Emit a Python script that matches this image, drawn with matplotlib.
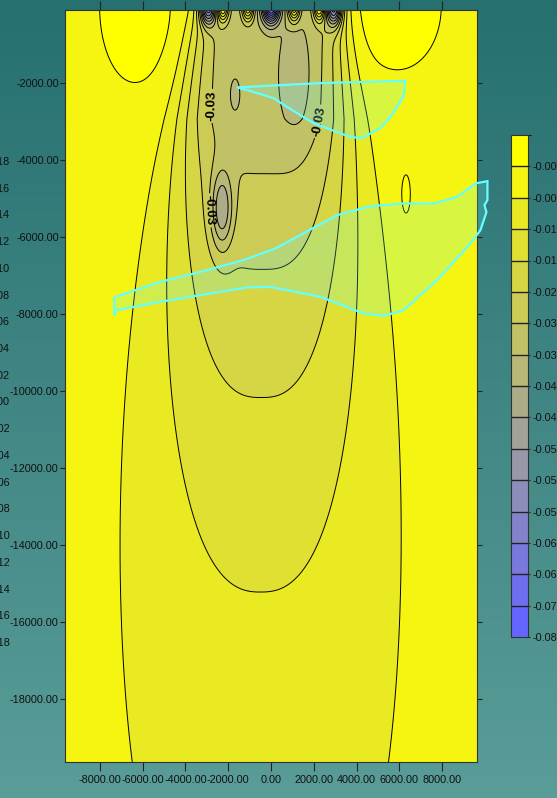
import numpy as np
import matplotlib
matplotlib.use('Agg')
import matplotlib.pyplot as plt
from matplotlib.colors import ListedColormap, BoundaryNorm
from matplotlib.patches import Polygon

plt.rcParams['font.family'] = ['Liberation Sans', 'DejaVu Sans']
plt.rcParams['contour.negative_linestyle'] = 'solid'

# colour bands (top of the scale first) and their boundary labels
band_labels = ['-0.00', '-0.00', '-0.01', '-0.01', '-0.02', '-0.03', '-0.03', '-0.04',
               '-0.04', '-0.05', '-0.05', '-0.05', '-0.06', '-0.06', '-0.07', '-0.08']
levels = np.linspace(-0.08, 0.0, 17)

# labels of the neighbouring scale that sits off the left edge
side_labels = ['0.18', '0.16', '0.14', '0.12', '0.10', '0.08', '0.06', '0.04', '0.02', '0.00',
               '-0.02', '-0.04', '-0.06', '-0.08', '-0.10', '-0.12', '-0.14', '-0.16', '-0.18']

# deep body of the anomaly
base_level = -0.0075
body_top_amp = 0.026
body_ref_amp = 0.0258
body_ref_depth = 3000.0
body_decay = 9900.0
body_width0 = 3400.0
body_width_rate = 0.19
body_shift = -500.0

# local sources: x, y, amplitude, x-width, y-width
src_x = [-2950, -2250, -1080, 0, 1080, 2250, 2950, -6350, 5900, 1150, -1700, -2300, 6300]
src_y = [0, 0, 0, 0, 0, 0, 0, 0, 0, -1800, -2300, -5300, -4900]
src_amp = [-0.040, 0.030, 0.030, -0.050, 0.030, 0.030, -0.040,
           0.006, 0.006, -0.006, -0.003, -0.018, 0.005]
src_sx = [250, 190, 190, 280, 190, 190, 250, 1250, 1550, 480, 220, 350, 180]
src_sy = [320, 260, 260, 300, 260, 260, 340, 1500, 1250, 900, 400, 700, 450]

# outlined zones
zone1_x = [-1589, 2304, 6276, 6182, 5575, 5107, 4266, 3706, 1977, 762, 107, -1107]
zone1_y = [-2112, -2000, -1940, -2364, -2884, -3170, -3430, -3404, -3040, -2624, -2390, -2182]
zone2_x = [-7276, -5173, -3304, -1294, 200, 3084, 4640, 6196, 7598, 8692, 9547, 10107,
           10107, 9967, 10061, 9780, 9313, 7757, 6196, 5262, 4327, 2304, -33, -1121,
           -2836, -5173, -7196, -7322, -7322]
zone2_y = [-7558, -7168, -6908, -6603, -6300, -5433, -5199, -5129, -5129, -4957, -4609, -4549,
           -5043, -5173, -5355, -5823, -6169, -7124, -7904, -8052, -7990, -7558, -7298, -7313,
           -7470, -7688, -7904, -8034, -7600]

label_points = [(-2480, -2600), (2250, -3000), (-2400, -5300)]

# field on a grid
x = np.linspace(-9620, 9620, 481)
y = np.linspace(-19650, -100, 800)
X, Y = np.meshgrid(x, y)
D = -Y
amp = np.minimum(body_top_amp, body_ref_amp * np.exp(-(D - body_ref_depth) / body_decay))
width = body_width0 + body_width_rate * D
power = 2.4 + 4.0 * np.exp(-D / 4000.0)
centre = body_shift * (1 - np.exp(-D / 4000.0))
Z = base_level - amp * np.exp(-(np.abs(X - centre) / width) ** power)
for sx0, sy0, a, wx, wy in zip(src_x, src_y, src_amp, src_sx, src_sy):
    Z += a * np.exp(-((X - sx0) ** 2 / (2 * wx ** 2) + (Y - sy0) ** 2 / (2 * wy ** 2)))

# yellow to blue, 16 steps
top_c = np.array([255, 255, 0]) / 255
bot_c = np.array([100, 100, 255]) / 255
cols = [bot_c + (top_c - bot_c) * t for t in np.linspace(0, 1, 16)]
cmap = ListedColormap(cols)

fig = plt.figure(figsize=(5.57, 7.98), dpi=100)

# teal backdrop
bg = fig.add_axes([0, 0, 1, 1], zorder=-10)
grad = np.linspace(0, 1, 256)[:, None, None]
c0 = np.array([38, 112, 112]) / 255
c1 = np.array([90, 157, 152]) / 255
bg.imshow(c0 + (c1 - c0) * grad * np.ones((1, 2, 1)), aspect='auto', extent=[0, 1, 0, 1])
bg.axis('off')

ax = fig.add_axes([65 / 557, 1 - 762 / 798, 412 / 557, 752 / 798])
cf = ax.contourf(X, Y, Z, levels=levels, cmap=cmap, extend='both')
line_levels = [lv for lv in levels if not np.isclose(lv, -0.03)]
ax.contour(X, Y, Z, levels=line_levels, colors='black', linewidths=0.7)
cs30 = ax.contour(X, Y, Z, levels=[levels[10]], colors='black', linewidths=0.7)
texts = ax.clabel(cs30, manual=label_points, fmt='%.2f', fontsize=9.5, inline=True, inline_spacing=2)
for t in texts:
    t.set_fontweight('bold')

for zx, zy in [(zone1_x, zone1_y), (zone2_x, zone2_y)]:
    ax.add_patch(Polygon(np.column_stack([zx, zy]), closed=True, facecolor=(0.4, 1, 1, 0.2),
                         edgecolor='#66ffff', linewidth=1.6, clip_on=False, zorder=5))

ax.set_xlim(-9620, 9620)
ax.set_ylim(-19650, -100)
xt = np.arange(-8000, 8001, 2000)
ax.set_xticks(xt)
ax.set_xticklabels(['%.2f' % v for v in xt], fontsize=7.8)
yt = np.arange(-18000, -1999, 2000)
ax.set_yticks(yt)
ax.set_yticklabels(['%.2f' % v for v in yt], fontsize=7.8)
ax.tick_params(axis='x', direction='out', length=6.5, top=True, bottom=True, pad=3,
               color='#222222', labelcolor='#111111')
ax.tick_params(axis='y', direction='out', length=3.5, left=True, right=True, pad=1,
               color='#222222', labelcolor='#111111')
for sp in ax.spines.values():
    sp.set_color('#333333')

# colour scale
cax = fig.add_axes([511 / 557, 1 - 637 / 798, 17 / 557, 502 / 798])
sm = plt.cm.ScalarMappable(norm=BoundaryNorm(levels, 16), cmap=cmap)
cb = fig.colorbar(sm, cax=cax, drawedges=True, ticks=levels[:-1])
cb.ax.set_yticklabels(band_labels[::-1], fontsize=7.8)
cb.ax.tick_params(length=1.5, pad=1.5, color='#222222', labelcolor='#111111')
cb.outline.set_edgecolor('#333333')
cb.dividers.set_color('#222222')
cb.dividers.set_linewidth(1)

for i, t in enumerate(side_labels):
    fig.text(10 / 557, 1 - (162 + i * 26.72) / 798, t, ha='right', va='center',
             fontsize=7.8, color='#111111')

fig.savefig('out.png', dpi=100)
